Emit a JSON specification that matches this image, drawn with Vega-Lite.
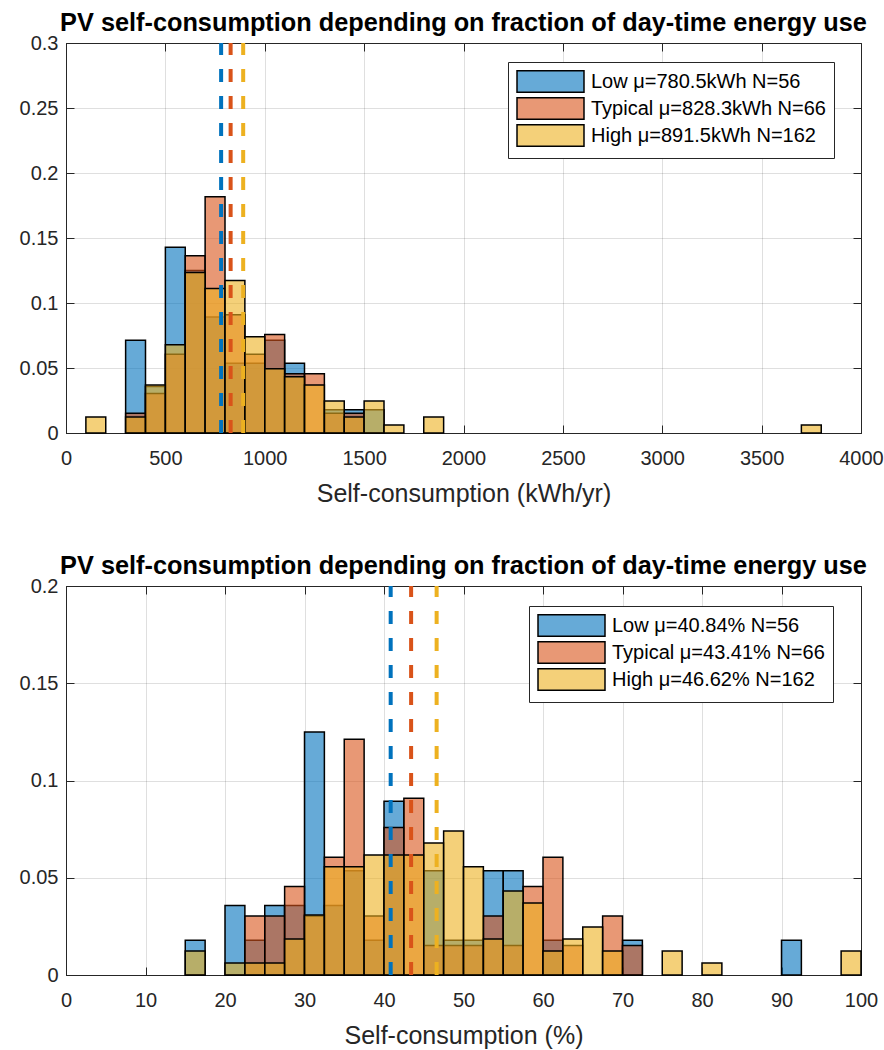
{
  "$schema": "https://vega.github.io/schema/vega-lite/v6.json",
  "background": "white",
  "padding": {"left": 18, "top": 10, "right": 0, "bottom": 0},
  "spacing": 46,
  "config": {
    "font": "Liberation Sans",
    "view": {"stroke": "#262626", "strokeWidth": 1},
    "axis": {
      "labelFont": "Liberation Sans",
      "labelFontSize": 20,
      "labelColor": "#262626",
      "labelFlush": false,
      "titleFont": "Liberation Sans",
      "titleFontSize": 25,
      "titleFontWeight": "normal",
      "titleColor": "#262626",
      "domainColor": "#262626",
      "tickColor": "#262626",
      "tickSize": -8,
      "gridColor": "#262626",
      "gridOpacity": 0.15,
      "labelOverlap": false
    },
    "axisX": {"labelPadding": 23, "titlePadding": 13},
    "axisY": {"labelPadding": 16},
    "title": {"font": "Liberation Sans", "fontSize": 25.3, "fontWeight": "bold", "color": "#000000", "anchor": "middle", "baseline": "alphabetic", "offset": -3, "frame": "group"},
    "legend": {
      "orient": "none",
      "title": null,
      "labelFont": "Liberation Sans",
      "labelFontSize": 20,
      "labelColor": "#000000",
      "labelLimit": 0,
      "labelOffset": 29,
      "symbolOffset": 23,
      "strokeColor": "#262626",
      "fillColor": "white",
      "padding": 8,
      "rowPadding": -2,
      "symbolType": "M-3.19,-1.03L3.19,-1.03L3.19,1.03L-3.19,1.03Z",
      "symbolSize": 441,
      "symbolStrokeColor": "black",
      "symbolStrokeWidth": 1.5
    }
  },
  "datasets": {
    "energy": [
      {"group": "Low", "start": 300, "end": 400, "value": 0.0714},
      {"group": "Low", "start": 400, "end": 500, "value": 0.0357},
      {"group": "Low", "start": 500, "end": 600, "value": 0.1429},
      {"group": "Low", "start": 600, "end": 700, "value": 0.125},
      {"group": "Low", "start": 700, "end": 800, "value": 0.0893},
      {"group": "Low", "start": 800, "end": 900, "value": 0.0536},
      {"group": "Low", "start": 900, "end": 1000, "value": 0.0536},
      {"group": "Low", "start": 1000, "end": 1100, "value": 0.0714},
      {"group": "Low", "start": 1100, "end": 1200, "value": 0.0536},
      {"group": "Low", "start": 1300, "end": 1400, "value": 0.0179},
      {"group": "Low", "start": 1400, "end": 1500, "value": 0.0179},
      {"group": "Low", "start": 1500, "end": 1600, "value": 0.0179},
      {"group": "Typical", "start": 300, "end": 400, "value": 0.0152},
      {"group": "Typical", "start": 400, "end": 500, "value": 0.0303},
      {"group": "Typical", "start": 500, "end": 600, "value": 0.0606},
      {"group": "Typical", "start": 600, "end": 700, "value": 0.1364},
      {"group": "Typical", "start": 700, "end": 800, "value": 0.1818},
      {"group": "Typical", "start": 800, "end": 900, "value": 0.0909},
      {"group": "Typical", "start": 900, "end": 1000, "value": 0.0606},
      {"group": "Typical", "start": 1000, "end": 1100, "value": 0.0758},
      {"group": "Typical", "start": 1100, "end": 1200, "value": 0.0455},
      {"group": "Typical", "start": 1200, "end": 1300, "value": 0.0455},
      {"group": "Typical", "start": 1300, "end": 1400, "value": 0.0152},
      {"group": "Typical", "start": 1400, "end": 1500, "value": 0.0152},
      {"group": "High", "start": 100, "end": 200, "value": 0.0123},
      {"group": "High", "start": 300, "end": 400, "value": 0.0123},
      {"group": "High", "start": 400, "end": 500, "value": 0.037},
      {"group": "High", "start": 500, "end": 600, "value": 0.0679},
      {"group": "High", "start": 600, "end": 700, "value": 0.1235},
      {"group": "High", "start": 700, "end": 800, "value": 0.1111},
      {"group": "High", "start": 800, "end": 900, "value": 0.1173},
      {"group": "High", "start": 900, "end": 1000, "value": 0.0741},
      {"group": "High", "start": 1000, "end": 1100, "value": 0.0494},
      {"group": "High", "start": 1100, "end": 1200, "value": 0.0432},
      {"group": "High", "start": 1200, "end": 1300, "value": 0.037},
      {"group": "High", "start": 1300, "end": 1400, "value": 0.0247},
      {"group": "High", "start": 1400, "end": 1500, "value": 0.0123},
      {"group": "High", "start": 1500, "end": 1600, "value": 0.0247},
      {"group": "High", "start": 1600, "end": 1700, "value": 0.0062},
      {"group": "High", "start": 1800, "end": 1900, "value": 0.0123},
      {"group": "High", "start": 3700, "end": 3800, "value": 0.0062}
    ],
    "energyMeans": [
      {"group": "Low", "mean": 780.5},
      {"group": "Typical", "mean": 828.3},
      {"group": "High", "mean": 891.5}
    ],
    "percent": [
      {"group": "Low", "start": 15, "end": 17.5, "value": 0.0179},
      {"group": "Low", "start": 20, "end": 22.5, "value": 0.0357},
      {"group": "Low", "start": 22.5, "end": 25, "value": 0.0179},
      {"group": "Low", "start": 25, "end": 27.5, "value": 0.0357},
      {"group": "Low", "start": 27.5, "end": 30, "value": 0.0357},
      {"group": "Low", "start": 30, "end": 32.5, "value": 0.125},
      {"group": "Low", "start": 32.5, "end": 35, "value": 0.0357},
      {"group": "Low", "start": 35, "end": 37.5, "value": 0.0536},
      {"group": "Low", "start": 37.5, "end": 40, "value": 0.0179},
      {"group": "Low", "start": 40, "end": 42.5, "value": 0.0893},
      {"group": "Low", "start": 45, "end": 47.5, "value": 0.0536},
      {"group": "Low", "start": 47.5, "end": 50, "value": 0.0179},
      {"group": "Low", "start": 50, "end": 52.5, "value": 0.0179},
      {"group": "Low", "start": 52.5, "end": 55, "value": 0.0536},
      {"group": "Low", "start": 55, "end": 57.5, "value": 0.0536},
      {"group": "Low", "start": 60, "end": 62.5, "value": 0.0179},
      {"group": "Low", "start": 70, "end": 72.5, "value": 0.0179},
      {"group": "Low", "start": 90, "end": 92.5, "value": 0.0179},
      {"group": "Typical", "start": 22.5, "end": 25, "value": 0.0303},
      {"group": "Typical", "start": 25, "end": 27.5, "value": 0.0303},
      {"group": "Typical", "start": 27.5, "end": 30, "value": 0.0455},
      {"group": "Typical", "start": 30, "end": 32.5, "value": 0.0303},
      {"group": "Typical", "start": 32.5, "end": 35, "value": 0.0606},
      {"group": "Typical", "start": 35, "end": 37.5, "value": 0.1212},
      {"group": "Typical", "start": 37.5, "end": 40, "value": 0.0303},
      {"group": "Typical", "start": 40, "end": 42.5, "value": 0.0758},
      {"group": "Typical", "start": 42.5, "end": 45, "value": 0.0909},
      {"group": "Typical", "start": 45, "end": 47.5, "value": 0.0152},
      {"group": "Typical", "start": 47.5, "end": 50, "value": 0.0152},
      {"group": "Typical", "start": 50, "end": 52.5, "value": 0.0152},
      {"group": "Typical", "start": 52.5, "end": 55, "value": 0.0303},
      {"group": "Typical", "start": 55, "end": 57.5, "value": 0.0152},
      {"group": "Typical", "start": 57.5, "end": 60, "value": 0.0455},
      {"group": "Typical", "start": 60, "end": 62.5, "value": 0.0606},
      {"group": "Typical", "start": 62.5, "end": 65, "value": 0.0152},
      {"group": "Typical", "start": 67.5, "end": 70, "value": 0.0303},
      {"group": "Typical", "start": 70, "end": 72.5, "value": 0.0152},
      {"group": "High", "start": 15, "end": 17.5, "value": 0.0123},
      {"group": "High", "start": 20, "end": 22.5, "value": 0.0062},
      {"group": "High", "start": 22.5, "end": 25, "value": 0.0062},
      {"group": "High", "start": 25, "end": 27.5, "value": 0.0062},
      {"group": "High", "start": 27.5, "end": 30, "value": 0.0185},
      {"group": "High", "start": 30, "end": 32.5, "value": 0.0309},
      {"group": "High", "start": 32.5, "end": 35, "value": 0.0556},
      {"group": "High", "start": 35, "end": 37.5, "value": 0.0556},
      {"group": "High", "start": 37.5, "end": 40, "value": 0.0617},
      {"group": "High", "start": 40, "end": 42.5, "value": 0.0617},
      {"group": "High", "start": 42.5, "end": 45, "value": 0.0617},
      {"group": "High", "start": 45, "end": 47.5, "value": 0.0679},
      {"group": "High", "start": 47.5, "end": 50, "value": 0.0741},
      {"group": "High", "start": 50, "end": 52.5, "value": 0.0556},
      {"group": "High", "start": 52.5, "end": 55, "value": 0.0185},
      {"group": "High", "start": 55, "end": 57.5, "value": 0.0432},
      {"group": "High", "start": 57.5, "end": 60, "value": 0.037},
      {"group": "High", "start": 60, "end": 62.5, "value": 0.0123},
      {"group": "High", "start": 62.5, "end": 65, "value": 0.0185},
      {"group": "High", "start": 65, "end": 67.5, "value": 0.0247},
      {"group": "High", "start": 67.5, "end": 70, "value": 0.0123},
      {"group": "High", "start": 75, "end": 77.5, "value": 0.0123},
      {"group": "High", "start": 80, "end": 82.5, "value": 0.0062},
      {"group": "High", "start": 97.5, "end": 100, "value": 0.0123}
    ],
    "percentMeans": [
      {"group": "Low", "mean": 40.84},
      {"group": "Typical", "mean": 43.41},
      {"group": "High", "mean": 46.62}
    ]
  },
  "vconcat": [
    {
      "title": {"text": "PV self-consumption depending on fraction of day-time energy use"},
      "width": 795,
      "height": 390,
      "layer": [
        {
          "data": {"name": "energy"},
          "mark": {"type": "bar", "fillOpacity": 0.6, "stroke": "black", "strokeWidth": 1.5, "strokeOpacity": 1},
          "encoding": {
            "x": {"field": "start", "type": "quantitative", "scale": {"domain": [0, 4000], "nice": false, "zero": false},
                  "axis": {"values": [0, 500, 1000, 1500, 2000, 2500, 3000, 3500, 4000], "format": "d", "title": "Self-consumption (kWh/yr)"}},
            "x2": {"field": "end"},
            "y": {"field": "value", "type": "quantitative", "stack": null, "scale": {"domain": [0, 0.3], "nice": false},
                  "axis": {"values": [0, 0.05, 0.1, 0.15, 0.2, 0.25, 0.3], "format": "~g", "title": null}},
            "y2": {"datum": 0},
            "color": {"field": "group", "type": "nominal",
                      "scale": {"domain": ["Low", "Typical", "High"], "range": ["#0072BD", "#D95319", "#EDB120"]},
                      "legend": {"legendX": 442, "legendY": 19,
                                 "labelExpr": "datum.label == 'Low' ? 'Low μ=780.5kWh N=56' : datum.label == 'Typical' ? 'Typical μ=828.3kWh N=66' : 'High μ=891.5kWh N=162'",
                                 "encode": {"symbols": {"update": {"fillOpacity": {"value": 0.6}, "strokeOpacity": {"value": 1}}}}}}
          }
        },
        {
          "data": {"name": "energyMeans"},
          "mark": {"type": "rule", "strokeWidth": 4, "strokeDash": [13, 14]},
          "encoding": {
            "x": {"field": "mean", "type": "quantitative",
                  "axis": {"orient": "top", "labels": false, "grid": false, "domain": false, "title": null, "minExtent": 0, "maxExtent": 0, "values": [0, 500, 1000, 1500, 2000, 2500, 3000, 3500, 4000]}},
            "y": {"datum": 0, "type": "quantitative",
                  "axis": {"orient": "right", "labels": false, "grid": false, "domain": false, "title": null, "minExtent": 0, "maxExtent": 0, "values": [0, 0.05, 0.1, 0.15, 0.2, 0.25, 0.3]}},
            "y2": {"datum": 0.3},
            "stroke": {"field": "group", "type": "nominal", "legend": null,
                       "scale": {"domain": ["Low", "Typical", "High"], "range": ["#0072BD", "#D95319", "#EDB120"]}}
          }
        }
      ],
      "resolve": {"axis": {"x": "independent", "y": "independent"}}
    },
    {
      "title": {"text": "PV self-consumption depending on fraction of day-time energy use"},
      "width": 795,
      "height": 389,
      "layer": [
        {
          "data": {"name": "percent"},
          "mark": {"type": "bar", "fillOpacity": 0.6, "stroke": "black", "strokeWidth": 1.5, "strokeOpacity": 1},
          "encoding": {
            "x": {"field": "start", "type": "quantitative", "scale": {"domain": [0, 100], "nice": false, "zero": false},
                  "axis": {"values": [0, 10, 20, 30, 40, 50, 60, 70, 80, 90, 100], "format": "d", "title": "Self-consumption (%)"}},
            "x2": {"field": "end"},
            "y": {"field": "value", "type": "quantitative", "stack": null, "scale": {"domain": [0, 0.2], "nice": false},
                  "axis": {"values": [0, 0.05, 0.1, 0.15, 0.2], "format": "~g", "title": null}},
            "y2": {"datum": 0},
            "color": {"field": "group", "type": "nominal",
                      "scale": {"domain": ["Low", "Typical", "High"], "range": ["#0072BD", "#D95319", "#EDB120"]},
                      "legend": {"legendX": 463, "legendY": 20,
                                 "labelExpr": "datum.label == 'Low' ? 'Low μ=40.84% N=56' : datum.label == 'Typical' ? 'Typical μ=43.41% N=66' : 'High μ=46.62% N=162'",
                                 "encode": {"symbols": {"update": {"fillOpacity": {"value": 0.6}, "strokeOpacity": {"value": 1}}}}}}
          }
        },
        {
          "data": {"name": "percentMeans"},
          "mark": {"type": "rule", "strokeWidth": 4, "strokeDash": [13, 14]},
          "encoding": {
            "x": {"field": "mean", "type": "quantitative",
                  "axis": {"orient": "top", "labels": false, "grid": false, "domain": false, "title": null, "minExtent": 0, "maxExtent": 0, "values": [0, 10, 20, 30, 40, 50, 60, 70, 80, 90, 100]}},
            "y": {"datum": 0, "type": "quantitative",
                  "axis": {"orient": "right", "labels": false, "grid": false, "domain": false, "title": null, "minExtent": 0, "maxExtent": 0, "values": [0, 0.05, 0.1, 0.15, 0.2]}},
            "y2": {"datum": 0.2},
            "stroke": {"field": "group", "type": "nominal", "legend": null,
                       "scale": {"domain": ["Low", "Typical", "High"], "range": ["#0072BD", "#D95319", "#EDB120"]}}
          }
        }
      ],
      "resolve": {"axis": {"x": "independent", "y": "independent"}}
    }
  ],
  "resolve": {"scale": {"color": "independent", "x": "independent", "y": "independent"}, "legend": {"color": "independent"}}
}
